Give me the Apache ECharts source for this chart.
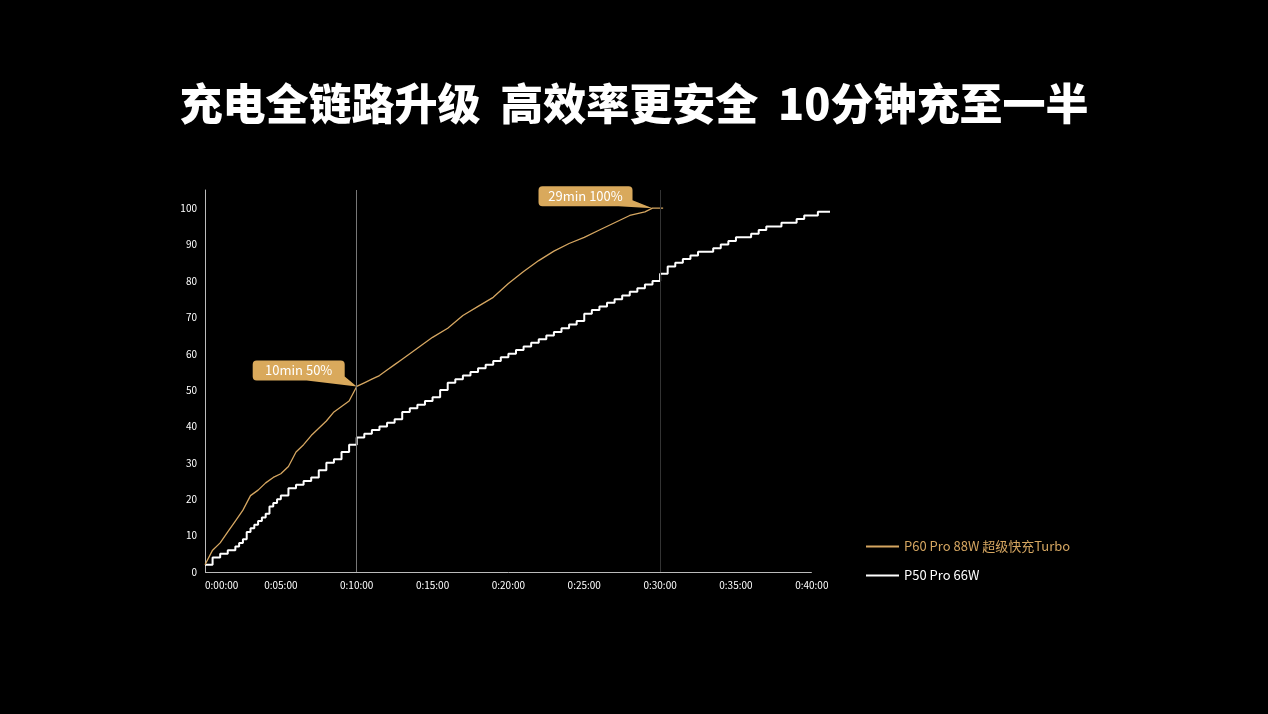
<!DOCTYPE html>
<html>
<head>
<meta charset="utf-8">
<script src="https://cdn.jsdelivr.net/npm/echarts@6/dist/echarts.min.js"></script>
<style>html,body{margin:0;padding:0;background:#000;}#c{width:1268px;height:714px;}</style>
</head>
<body>
<div id="c"></div>
<script>
const titleText = '充电全链路升级  高效率更安全  10分钟充至一半';
const seriesNames = ['P60 Pro 88W 超级快充Turbo', 'P50 Pro 66W'];
const xTicks = [0, 5, 10, 15, 20, 25, 30, 35, 40];
// minutes, percent
const p60Time = [0,0.5,1,1.5,2,2.5,3,3.5,4,4.5,5,5.5,6,6.5,7,7.5,8,8.5,9,9.5,10,10.5,11,11.5,12,12.5,13,13.5,14,14.5,15,16,17,18,19,20,21,22,23,24,25,26,27,28,29,29.5,30.2];
const p60Value = [2,6,8,11,14,17,21,22.5,24.5,26,27,29,33,35,37.5,39.5,41.5,44,45.5,47,51,52,53,54,55.5,57,58.5,60,61.5,63,64.5,67,70.5,73,75.5,79.3,82.6,85.6,88.2,90.3,92,94,96,98,99,100,100];
const p50Time = [0,0.5,1,1.5,2,2.25,2.5,2.75,3,3.25,3.5,3.75,4,4.25,4.5,4.75,5,5.5,6,6.5,7,7.5,8,8.5,9,9.5,10,10.5,11,11.5,12,12.5,13,13.5,14,14.5,15,15.5,16,16.5,17,17.5,18,18.5,19,19.5,20,20.5,21,21.5,22,22.5,23,23.5,24,24.5,25,25.5,26,26.5,27,27.5,28,28.5,29,29.5,30,30.5,31,31.5,32,32.5,33,33.5,34,34.5,35,35.5,36,36.5,37,37.5,38,38.5,39,39.5,40,40.4,41.2];
const p50Value = [2,4,5,6,7,8,9,11,12,13,14,15,16,18,19,20,21,23,24,25,26,28,30,31,33,35,37,38,39,40,41,42,44,45,46,47,48,50,52,53,54,55,56,57,58,59,60,61,62,63,64,65,66,67,68,69,71,72,73,74,75,76,77,78,79,80,82,84,85,86,87,88,88,89,90,91,92,92,93,94,95,95,96,96,97,98,98,99,99];
const markLabels = ['10min 50%', '29min 100%'];
const markCoords = [[10, 51], [29.5, 100]];
const refLines = [10, 30];
const xAxisEnd = 40;

const orange = '#d5a661';
const boxColor = '#d9a95c';
function pad(n){return (n<10?'0':'')+n;}

const chart = echarts.init(document.getElementById('c'));
chart.setOption({
  backgroundColor: '#000',
  animation: false,
  textStyle: {fontFamily: 'Noto Sans CJK SC'},
  title: {
    text: titleText, left: 'center', top: 77,
    textStyle: {color: '#fff', fontSize: 43, fontWeight: 900, fontFamily: 'Noto Sans CJK SC'}
  },
  legend: {
    orient: 'vertical', left: 861, top: 535, itemGap: 16,
    icon: 'rect', itemWidth: 33, itemHeight: 2,
    textStyle: {fontSize: 13, fontFamily: 'Noto Sans CJK SC'},
    data: [
      {name: seriesNames[0], textStyle: {color: orange}},
      {name: seriesNames[1], textStyle: {color: '#fff'}}
    ]
  },
  grid: {left: 205, right: 438, top: 190, bottom: 142},
  xAxis: {
    type: 'value', min: 0, max: 41.2, interval: 5,
    axisLine: {show: false},
    axisTick: {show: false},
    splitLine: {show: false},
    axisLabel: {color: '#fff', fontSize: 10, margin: 8, alignMinLabel: 'left', showMaxLabel: false,
      formatter: v => xTicks.indexOf(v) >= 0 ? '0:' + pad(v) + ':00' : ''}
  },
  yAxis: {
    type: 'value', min: 0, max: 105, interval: 10,
    axisLine: {show: true, lineStyle: {color: '#bbb', width: 1}},
    axisTick: {show: false},
    splitLine: {show: false},
    axisLabel: {color: '#fff', fontSize: 10, margin: 8,
      formatter: v => v <= 100 ? String(v) : ''}
  },
  series: [
    {
      name: seriesNames[0], type: 'line', showSymbol: false,
      data: p60Time.map((t, i) => [t, p60Value[i]]),
      lineStyle: {color: orange, width: 1.3}, itemStyle: {color: orange},
      z: 3,
      markLine: {
        silent: true, symbol: ['none', 'none'], label: {show: false},
        data: [
          {xAxis: refLines[0], lineStyle: {color: '#777', width: 1, type: 'solid'}},
          {xAxis: refLines[1], lineStyle: {color: '#333', width: 1, type: 'solid'}}
        ]
      },
      markPoint: {
        silent: true,
        data: [
          {
            coord: markCoords[0], value: markLabels[0],
            symbol: 'path://M4,0 L88,0 Q92,0 92,4 L92,16 L104,26 L54,20 L4,20 Q0,20 0,16 L0,4 Q0,0 4,0 Z',
            symbolSize: [104, 26], symbolOffset: [-52, -13],
            itemStyle: {color: boxColor},
            label: {show: true, formatter: markLabels[0], color: '#fff', fontSize: 13, offset: [-6, -3]}
          },
          {
            coord: markCoords[1], value: markLabels[1],
            symbol: 'path://M4,0 L90,0 Q94,0 94,4 L94,14 L114,22 L80,20 L4,20 Q0,20 0,16 L0,4 Q0,0 4,0 Z',
            symbolSize: [114, 22], symbolOffset: [-57, -11],
            itemStyle: {color: boxColor},
            label: {show: true, formatter: markLabels[1], color: '#fff', fontSize: 13, offset: [-10, -1]}
          }
        ]
      }
    },
    {
      name: seriesNames[1], type: 'line', showSymbol: false, step: 'end',
      data: p50Time.map((t, i) => [t, p50Value[i]]),
      lineStyle: {color: '#fff', width: 2}, itemStyle: {color: '#fff'},
      z: 2,
      markLine: {
        silent: true, symbol: ['none', 'none'], label: {show: false},
        lineStyle: {color: '#bbb', width: 1, type: 'solid'},
        data: [[{coord: [0, 0]}, {coord: [xAxisEnd, 0]}]]
      }
    }
  ]
});
</script>
</body>
</html>
